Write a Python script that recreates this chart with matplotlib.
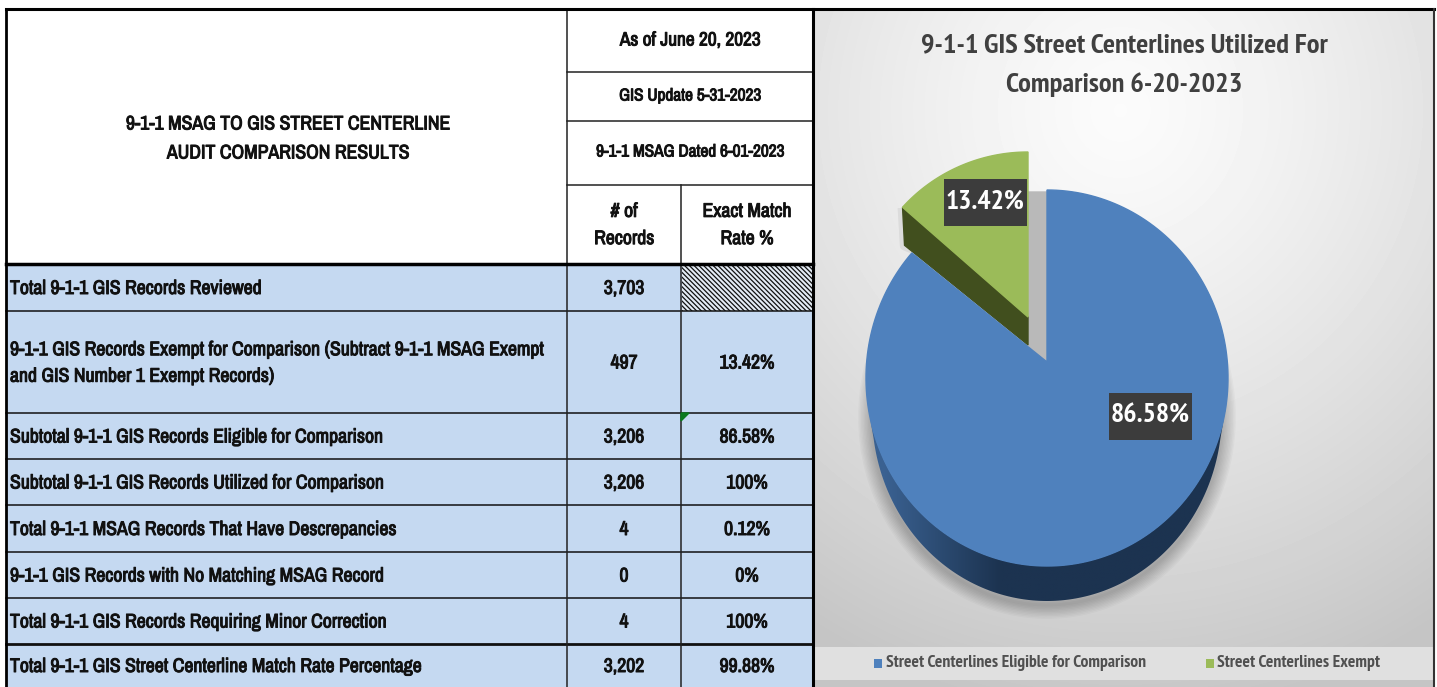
import numpy as np
import matplotlib
matplotlib.use("Agg")
import matplotlib.pyplot as plt
import matplotlib.patheffects as pe
from matplotlib.colors import LinearSegmentedColormap
from matplotlib.patches import Polygon, Rectangle

plt.rcParams['font.family'] = ['Archivo Narrow', 'Liberation Sans', 'DejaVu Sans']
plt.rcParams['hatch.linewidth'] = 0.9
CHART_FONT = ['PT Sans Narrow', 'DejaVu Sans']

# table content
main_title = ["9-1-1 MSAG TO GIS STREET CENTERLINE", "AUDIT COMPARISON RESULTS"]
date_labels = ["As of June 20, 2023", "GIS Update 5-31-2023", "9-1-1 MSAG Dated 6-01-2023"]
col_labels = ["# of\nRecords", "Exact Match\nRate %"]
row_labels = [
    "Total 9-1-1 GIS Records Reviewed",
    "9-1-1 GIS Records Exempt for Comparison (Subtract 9-1-1 MSAG Exempt\nand GIS Number 1 Exempt Records)",
    "Subtotal 9-1-1 GIS Records Eligible for Comparison",
    "Subtotal 9-1-1 GIS Records Utilized for Comparison",
    "Total 9-1-1 MSAG Records That Have Descrepancies",
    "9-1-1 GIS Records with No Matching MSAG Record",
    "Total 9-1-1 GIS Records Requiring Minor Correction",
    "Total 9-1-1 GIS Street Centerline Match Rate Percentage",
]
record_counts = ["3,703", "497", "3,206", "3,206", "4", "0", "4", "3,202"]
match_rates = ["", "13.42%", "86.58%", "100%", "0.12%", "0%", "100%", "99.88%"]

# pie content
pie_title = "9-1-1 GIS Street Centerlines Utilized For\nComparison 6-20-2023"
pie_names = ["Street Centerlines Eligible for Comparison", "Street Centerlines Exempt"]
pie_values = [86.58, 13.42]
pie_colors = ["#4f81bd", "#9bbb59"]

TEXT = "#111111"
BLUE_ROW = "#c5d9f1"
TABLE_FS = 14.2
# Archivo Narrow only comes in one weight here, so thicken it with a thin stroke
BOLD = [pe.withStroke(linewidth=0.7, foreground=TEXT)]


def arc(cx, cy, rx, ry, a0, a1, n=200):
    t = np.radians(np.linspace(a0, a1, n))
    return np.column_stack([cx + rx * np.sin(t), cy - ry * np.cos(t)])


def cell_text(x, y, text, ha="center", fs=TABLE_FS, spacing=1.2):
    ax.text(x, y, text, ha=ha, va="center", fontsize=fs, color=TEXT, linespacing=spacing, path_effects=BOLD, zorder=3)


fig = plt.figure(figsize=(14.37, 6.87), dpi=100)
ax = fig.add_axes([0, 0, 1, 1])
ax.axis("off")

# ---- table ----
row_edges = [264, 311, 413, 459, 505, 552, 598, 644, 687]
ax.add_patch(Rectangle((6, 264), 807, 423, fc=BLUE_ROW, ec="none", zorder=1))
ax.add_patch(Rectangle((682, 266), 131, 45, fc="#e4ecf5", ec="#111111", lw=0, hatch="\\\\\\\\\\\\\\", zorder=1.5))
ax.fill([681, 689, 681], [413, 413, 421], color="#0a7a1e", zorder=3)

for y in row_edges[1:-1]:
    heavy = y == 644
    ax.plot([6, 813], [y, y], color="#111111", lw=2 if heavy else 1.1, zorder=2)
ax.plot([6, 813], [264, 264], color="black", lw=2.5, zorder=4)
ax.plot([567, 813], [72, 72], color="#222222", lw=1.1, zorder=2)
ax.plot([567, 813], [121, 121], color="#222222", lw=1.1, zorder=2)
ax.plot([567, 813], [185, 185], color="#222222", lw=1.1, zorder=2)
ax.plot([567, 567], [9, 687], color="#222222", lw=1.1, zorder=2)
ax.plot([681, 681], [185, 687], color="#222222", lw=1.1, zorder=2)
ax.plot([6, 6], [9, 687], color="black", lw=2, zorder=4)
ax.plot([813, 813], [9, 687], color="black", lw=2.2, zorder=4)
ax.plot([6, 1434], [9, 9], color="black", lw=2.2, zorder=7)

for text, y in zip(main_title, [124, 153]):
    cell_text(288, y, text)
for text, y, fs in zip(date_labels, [40, 96, 152], [13.9, 12.4, 12.4]):
    cell_text(690, y, text, fs=fs)
for text, x in zip(col_labels, [624, 747]):
    cell_text(x, 225, text, spacing=1.55)

for i, label in enumerate(row_labels):
    mid = (row_edges[i] + row_edges[i + 1]) / 2 + 1
    cell_text(10, mid, label, ha="left", spacing=1.5)
    cell_text(624, mid, record_counts[i])
    cell_text(747, mid, match_rates[i])

# ---- chart panel background ----
px, py = np.meshgrid(np.arange(814, 1434), np.arange(10, 687))
dist = np.hypot((px - 1120) / 620, (py - 110) / 640)
shade = np.clip(0.985 - 0.23 * dist ** 1.3, 0.77, 1)
ax.imshow(shade, cmap="gray", vmin=0, vmax=1, extent=(814, 1434, 687, 10), aspect="auto", zorder=1, interpolation="bilinear")
ax.add_patch(Rectangle((814, 647), 619, 33, fc="#e0e0e0", ec="none", zorder=1.2))
ax.plot([1433.5, 1433.5], [9, 687], color="#333333", lw=1.5, zorder=7)

# ---- pie ----
cx, cy, rx, ry = 1047, 378, 181, 188
depth = 35
apex = (1047, 362)
blue_end = 360 * pie_values[0] / sum(pie_values)

top_arc = arc(cx, cy, rx, ry, 0, blue_end)
blue_top = np.vstack([apex, top_arc])

# wall under the blue slice, lighter on the left
wall_outer = arc(cx, cy + depth, rx - 6, ry, 98, 262)
wall_inner = arc(cx, cy, rx, ry, 262, 98)
wall = np.vstack([wall_outer, wall_inner])

# green slice is pulled out along its own middle
g_apex = (1028, 317)
g_rx, g_ry = 168, 165
green_arc = arc(g_apex[0], g_apex[1], g_rx, g_ry, blue_end, 360)
green_top = np.vstack([g_apex, green_arc])
green_side = np.array([green_arc[0], green_arc[0] + (2, 38), g_apex + np.array([0, 28]), g_apex])

# soft shadow hugging the lower edge of the pie
shadow = arc(cx, cy + depth + 4, rx - 6, ry, 75, 285)
for lw in np.linspace(2, 20, 10):
    ax.plot(shadow[:, 0], shadow[:, 1], color="black", lw=lw, alpha=0.022, zorder=2, solid_capstyle="round")
ax.plot([902, 904, 918], [212, 246, 252], color="black", lw=6, alpha=0.06, zorder=2)

# grey inner face seen through the gap
ax.fill([1028, 1047, 1047, 1028], [192, 192, 362, 345], color="#b9b9b9", zorder=3)

gx = np.linspace(0, 1, 256)[None, :]
wall_cmap = LinearSegmentedColormap.from_list("wall", ["#3a6191", "#1c3350"])
wall_img = ax.imshow(np.clip((gx - 0.05) / 0.32, 0, 1), cmap=wall_cmap,
                     extent=(866, 1228, 610, 370), aspect="auto", zorder=4, interpolation="bilinear")
clip = Polygon(wall, closed=True, transform=ax.transData, fc="none", ec="none")
ax.add_patch(clip)
wall_img.set_clip_path(clip)

ax.fill(blue_top[:, 0], blue_top[:, 1], color=pie_colors[0], zorder=5)
ax.fill(green_side[:, 0], green_side[:, 1], color="#414f1e", zorder=4.5)
ax.fill(green_top[:, 0], green_top[:, 1], color=pie_colors[1], zorder=5.5)

# data labels
boxes = [(1150, 416), (985.5, 202)]
for (bx, by), val in zip(boxes, pie_values):
    ax.add_patch(Rectangle((bx - 41.5, by - 23.5), 83, 47, fc="#3c3c3c", ec="none", zorder=6))
    ax.text(bx, by, f"{val:.2f}%", ha="center", va="center", fontsize=20, fontweight="bold",
            color="white", zorder=6.5, family=CHART_FONT)

ax.text(1124, 65, pie_title, ha="center", va="center", fontsize=20.4, fontweight="bold", color="#404040",
        linespacing=1.75, zorder=6, family=CHART_FONT)

# legend
for name, col, sx, tx in zip(pie_names, pie_colors, [874, 1206], [886, 1217]):
    ax.add_patch(Rectangle((sx, 659), 8, 9, fc=col, ec="none", zorder=6))
    ax.text(tx, 663, name, ha="left", va="center", fontsize=12.65, fontweight="bold", color="#505050",
            zorder=6, family=CHART_FONT)

ax.set_xlim(0, 1437)
ax.set_ylim(687, 0)
fig.savefig("out.png", dpi=100, facecolor="white")
